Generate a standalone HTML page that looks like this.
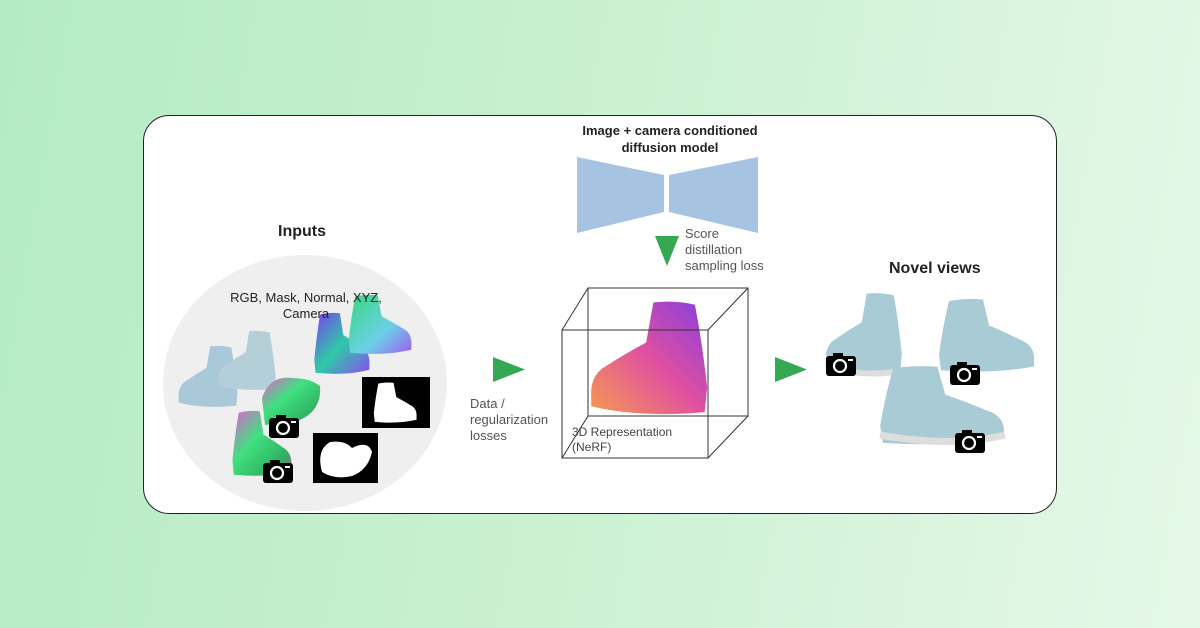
<!DOCTYPE html>
<html><head><meta charset="utf-8"><style>
html,body{margin:0;padding:0;}
body{width:1200px;height:628px;overflow:hidden;background:linear-gradient(100deg,#b4ebc4 0%,#c8f0d0 45%,#e6f8e8 100%);font-family:"Liberation Sans",Arial,sans-serif;position:relative;}
.card{position:absolute;left:143px;top:115px;width:912px;height:397px;background:#fff;border:1.5px solid #222;border-radius:26px;}
.t{position:absolute;color:#222;white-space:nowrap;}
svg{position:absolute;left:0;top:0;}
</style></head><body>
<div class="card"></div>
<svg width="1200" height="628" viewBox="0 0 1200 628">
<defs>
<path id="shoe" d="M14,4 Q30,0 48,2 L54,36 Q72,46 90,58 Q100,66 99,82 L99,90 Q60,100 6,95 L4,74 Q8,36 14,4 Z"/>
<g id="cam"><rect x="0" y="3" width="30" height="20" rx="3" fill="#000"/><rect x="7" y="0" width="10" height="5" fill="#000"/><circle cx="14" cy="13" r="6" fill="none" stroke="#fff" stroke-width="2.2"/><rect x="22" y="6" width="5" height="2" fill="#fff"/></g>
<linearGradient id="nrm" x1="0" y1="0" x2="1" y2="1"><stop offset="0" stop-color="#7a3df0"/><stop offset="0.5" stop-color="#2fc9a8"/><stop offset="1" stop-color="#8a4ef0"/></linearGradient>
<linearGradient id="nrm2" x1="0" y1="0" x2="1" y2="1"><stop offset="0" stop-color="#38d67a"/><stop offset="0.6" stop-color="#6bd0e8"/><stop offset="1" stop-color="#9d5ef0"/></linearGradient>
<linearGradient id="xyz" x1="0" y1="0" x2="1" y2="1"><stop offset="0" stop-color="#e060d0"/><stop offset="0.4" stop-color="#40e080"/><stop offset="0.8" stop-color="#30b060"/><stop offset="1" stop-color="#d040a0"/></linearGradient>
<linearGradient id="nerf" x1="0" y1="0" x2="1" y2="1"><stop offset="0" stop-color="#8a3ee0"/><stop offset="0.5" stop-color="#e050a0"/><stop offset="1" stop-color="#f59a50"/></linearGradient>
</defs>
<ellipse cx="305" cy="383" rx="142" ry="128" fill="#efefef"/>
<g transform="translate(240,345) scale(-0.62,0.64)" fill="#a9c9d8"><use href="#shoe"/></g>
<g transform="translate(278,330) scale(-0.6,0.62)" fill="#b5cfd8"><use href="#shoe"/></g>
<g transform="translate(312,312) scale(0.58,0.64)" fill="url(#nrm)"><use href="#shoe"/></g>
<g transform="translate(346,294) scale(0.66,0.62)" fill="url(#nrm2)"><use href="#shoe"/></g>
<path d="M262,398 Q270,375 292,378 Q310,378 320,386 Q322,410 300,420 L265,425 Z" fill="url(#xyz)"/>
<g transform="translate(230,410) scale(0.62,0.68)" fill="url(#xyz)"><use href="#shoe"/></g>
<rect x="362" y="377" width="68" height="51" fill="#000"/>
<g transform="translate(372,382) scale(0.45,0.42)" fill="#fff"><use href="#shoe"/></g>
<rect x="313" y="433" width="65" height="50" fill="#000"/>
<path d="M322,472 Q316,450 330,442 Q345,440 352,448 Q368,440 372,452 Q368,470 352,476 Q335,480 322,472 Z" fill="#fff"/>
<use href="#cam" x="269" y="415"/>
<use href="#cam" x="263" y="460"/>
<polygon points="577,157 664,175 664,212 577,233" fill="#a6c4e2"/>
<polygon points="669,175 758,157 758,233 669,212" fill="#a6c4e2"/>
<polygon points="655,236 679,236 667,266" fill="#34a853"/>
<polygon points="493,357 493,382 525,369.5" fill="#34a853"/>
<polygon points="775,357 775,382 807,369.5" fill="#34a853"/>
<g fill="none" stroke="#333" stroke-width="1">
<rect x="588" y="288" width="160" height="128"/>
<g transform="translate(590,300) scale(-1.22,1.18) translate(-100,0)" fill="url(#nerf)" stroke="none"><use href="#shoe"/></g>
<rect x="562" y="330" width="146" height="128"/>
<line x1="562" y1="330" x2="588" y2="288"/><line x1="708" y1="330" x2="748" y2="288"/>
<line x1="708" y1="458" x2="748" y2="416"/><line x1="562" y1="458" x2="588" y2="416"/>
</g>
<g transform="translate(905,292) scale(-0.8,0.84)" fill="#a8cbd6"><use href="#shoe"/></g>
<path d="M830,368 Q870,378 905,370" stroke="#ddd" stroke-width="6" fill="none"/>
<g transform="translate(935,298) scale(1.0,0.76)" fill="#a8cbd6"><use href="#shoe"/></g>
<g transform="translate(875,365) scale(1.3,0.82)" fill="#a8cbd6"><use href="#shoe"/></g>
<path d="M880,435 Q950,448 1005,435" stroke="#ddd" stroke-width="7" fill="none"/>
<use href="#cam" x="826" y="353"/>
<use href="#cam" x="950" y="362"/>
<use href="#cam" x="955" y="430"/>
</svg>
<div class="t" style="left:278px;top:223px;font-size:16px;font-weight:bold;">Inputs</div>
<div class="t" style="left:226px;top:290px;font-size:13px;text-align:center;line-height:16px;width:160px;">RGB, Mask, Normal, XYZ,<br>Camera</div>
<div class="t" style="left:560px;top:122px;width:220px;text-align:center;font-size:13px;font-weight:bold;line-height:17px;">Image + camera conditioned<br>diffusion model</div>
<div class="t" style="left:685px;top:226px;font-size:13px;line-height:16px;color:#555;">Score<br>distillation<br>sampling loss</div>
<div class="t" style="left:470px;top:396px;font-size:13px;line-height:16px;color:#555;">Data /<br>regularization<br>losses</div>
<div class="t" style="left:572px;top:425px;font-size:12px;line-height:15px;color:#444;">3D Representation<br>(NeRF)</div>
<div class="t" style="left:889px;top:260px;font-size:16px;font-weight:bold;">Novel views</div>
</body></html>
